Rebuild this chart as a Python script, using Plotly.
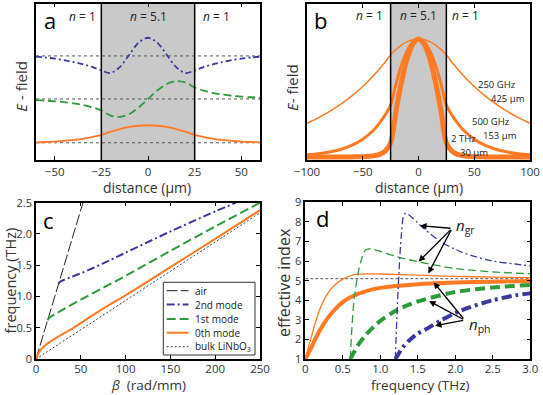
import plotly.graph_objects as go

W, H = 543, 395
FONT = "Open Sans"
BLUE = "#3a3a9e"
GREEN = "#2f9a3a"
ORANGE = "#ff7a22"
GRAY_FILL = "#c9c9c9"
TXT = "#333333"

# ---------------- panel a : mode profiles (arbitrary, offset) ----------------
xa = [-60, -55, -50, -45, -40, -35, -30, -25, -20, -15, -10, -5, 0,
      5, 10, 15, 20, 25, 30, 35, 40, 45, 50, 55, 60]
a_mode2 = [0.660, 0.655, 0.648, 0.638, 0.626, 0.612, 0.595, 0.572, 0.556, 0.595, 0.673, 0.750, 0.781,
           0.750, 0.673, 0.595, 0.556, 0.572, 0.595, 0.612, 0.626, 0.638, 0.648, 0.655, 0.660]
a_mode1 = [0.382, 0.379, 0.375, 0.370, 0.362, 0.352, 0.337, 0.317, 0.284, 0.276, 0.294, 0.336, 0.390,
           0.444, 0.486, 0.504, 0.496, 0.463, 0.443, 0.428, 0.418, 0.410, 0.405, 0.401, 0.398]
a_mode0 = [0.113, 0.115, 0.118, 0.122, 0.128, 0.135, 0.146, 0.160, 0.181, 0.198, 0.211, 0.219, 0.222,
           0.219, 0.211, 0.198, 0.181, 0.160, 0.146, 0.135, 0.128, 0.122, 0.118, 0.115, 0.113]
a_baselines = [0.665, 0.39, 0.11]
a_xrange = [-60, 60]
core_edges = [-25, 25]

# ---------------- panel b : fundamental mode at three frequencies ----------------
xb = [-100, -90, -80, -70, -60, -50, -40, -35, -30, -25, -20, -15, -10, -5, 0,
      5, 10, 15, 20, 25, 30, 35, 40, 50, 60, 70, 80, 90, 100]
b_250GHz = [0.286, 0.331, 0.384, 0.445, 0.516, 0.598, 0.693, 0.746, 0.803, 0.865, 0.913, 0.951, 0.978, 0.994, 1.0,
            0.994, 0.978, 0.951, 0.913, 0.865, 0.803, 0.746, 0.693, 0.598, 0.516, 0.445, 0.384, 0.331, 0.286]
b_500GHz = [0.018, 0.027, 0.042, 0.064, 0.098, 0.151, 0.231, 0.287, 0.355, 0.440, 0.628, 0.785, 0.902, 0.975, 1.0,
            0.975, 0.902, 0.785, 0.628, 0.440, 0.355, 0.287, 0.231, 0.151, 0.098, 0.064, 0.042, 0.027, 0.018]
b_2THz = [0.0, 0.0, 0.0, 0.0, 0.001, 0.002, 0.010, 0.022, 0.050, 0.120, 0.400, 0.645, 0.836, 0.958, 1.0,
          0.958, 0.836, 0.645, 0.400, 0.120, 0.050, 0.022, 0.010, 0.002, 0.001, 0.0, 0.0, 0.0, 0.0]

# ---------------- panel c : dispersion ----------------
beta_air = [0, 52.4]
f_air = [0, 2.5]
beta_bulk = [0, 250]
f_bulk = [0, 2.34]
beta0 = [0, 3, 8, 15, 25, 42, 60, 80, 100, 150, 200, 250]
f0 = [0, 0.10, 0.19, 0.27, 0.36, 0.50, 0.67, 0.85, 1.02, 1.47, 1.92, 2.38]
beta1 = [13, 14, 16, 20, 30, 50, 75, 100, 150, 200, 250]
f1 = [0.62, 0.645, 0.672, 0.705, 0.79, 0.95, 1.14, 1.33, 1.73, 2.12, 2.5]
beta2 = [25.2, 26, 28, 32, 40, 50, 75, 100, 150, 200, 223]
f2 = [1.2, 1.22, 1.245, 1.27, 1.315, 1.37, 1.53, 1.70, 2.04, 2.36, 2.5]

# ---------------- panel d : effective indices ----------------
fg0 = [0, 0.05, 0.1, 0.15, 0.2, 0.3, 0.4, 0.5, 0.6, 0.7, 0.8, 1.0, 1.5, 2.0, 2.5, 3.0]
ngr0 = [1, 1.7, 2.4, 3.05, 3.6, 4.35, 4.8, 5.08, 5.25, 5.33, 5.35, 5.34, 5.28, 5.22, 5.18, 5.15]
fp0 = [0, 0.05, 0.1, 0.15, 0.2, 0.3, 0.4, 0.5, 0.6, 0.8, 1.0, 1.5, 2.0, 2.5, 3.0]
nph0 = [1, 1.35, 1.75, 2.15, 2.5, 3.1, 3.55, 3.9, 4.15, 4.45, 4.63, 4.82, 4.9, 4.95, 4.98]
fg1 = [0.6, 0.62, 0.65, 0.7, 0.75, 0.8, 0.85, 0.9, 1.0, 1.2, 1.5, 2.0, 2.5, 3.0]
ngr1 = [1, 2.5, 4.0, 5.3, 6.1, 6.55, 6.62, 6.6, 6.5, 6.25, 5.97, 5.62, 5.45, 5.35]
fp1 = [0.6, 0.65, 0.7, 0.8, 0.9, 1.0, 1.2, 1.4, 1.6, 2.0, 2.5, 3.0]
nph1 = [1, 1.35, 1.7, 2.2, 2.6, 2.95, 3.45, 3.8, 4.05, 4.42, 4.65, 4.78]
fg2 = [1.2, 1.22, 1.25, 1.28, 1.31, 1.34, 1.4, 1.5, 1.6, 1.8, 2.0, 2.2, 2.5, 2.8, 3.0]
ngr2 = [1, 3.0, 5.5, 7.3, 8.3, 8.45, 8.3, 7.95, 7.6, 7.0, 6.6, 6.3, 6.0, 5.85, 5.75]
fp2 = [1.2, 1.25, 1.3, 1.4, 1.5, 1.6, 1.8, 2.0, 2.2, 2.5, 2.8, 3.0]
nph2 = [1, 1.3, 1.6, 2.0, 2.3, 2.5, 2.95, 3.35, 3.65, 4.0, 4.25, 4.35]
n_bulk = 5.1
ngr_tail = (1.956, 7.67)
ngr_tips = [(1.53, 7.8), (1.51, 5.97), (1.64, 5.37)]
nph_tail = (2.125, 2.99)
nph_tips = [(1.71, 4.92), (1.65, 3.96), (1.73, 2.70)]

fig = go.Figure()


def line(x, y, color, width, dash="solid", ax=1, shape="spline"):
    fig.add_trace(go.Scatter(
        x=x, y=y, mode="lines", showlegend=False, hoverinfo="skip",
        line=dict(color=color, width=width, dash=dash, shape=shape, smoothing=0.9),
        xaxis="x" if ax == 1 else f"x{ax}", yaxis="y" if ax == 1 else f"y{ax}"))


# panel a
for b in a_baselines:
    line(a_xrange, [b, b], "#555555", 1, "3px,3px", 1, "linear")
line(xa, a_mode2, BLUE, 1.8, "6px,3px,2px,3px", 1)
line(xa, a_mode1, GREEN, 1.8, "8px,4px", 1)
line(xa, a_mode0, ORANGE, 1.8, "solid", 1)

# panel b
line(xb, b_250GHz, ORANGE, 1.5, "solid", 2)
line(xb, b_500GHz, ORANGE, 3, "solid", 2)
line(xb, b_2THz, ORANGE, 5, "solid", 2)

# panel c
line(beta_bulk, f_bulk, "#444444", 1, "2px,2px", 3, "linear")
line(beta_air, f_air, "#222222", 1, "11px,3px", 3, "linear")
line(beta0, f0, ORANGE, 2, "solid", 3)
line(beta1, f1, GREEN, 2, "9px,4px", 3)
line(beta2, f2, BLUE, 2, "8px,3px,2px,3px", 3)

# panel d
line([0, 3], [n_bulk, n_bulk], "#555555", 1, "3px,2px", 4, "linear")
line(fg0, ngr0, ORANGE, 1.3, "solid", 4)
line(fp0, nph0, ORANGE, 4, "solid", 4)
line(fg1, ngr1, GREEN, 1.3, "8px,4px", 4)
line(fp1, nph1, GREEN, 4, "10px,5px", 4)
line(fg2, ngr2, BLUE, 1.3, "7px,3px,2px,3px", 4)
line(fp2, nph2, BLUE, 4, "10px,4px,3px,4px", 4)


def dom(a, b, n):
    return [a / n, b / n]


def ydom(top, bottom):
    return [1 - bottom / H, 1 - top / H]


axis_common = dict(showline=True, linecolor="black", linewidth=1.5, mirror="allticks",
                   ticks="inside", ticklen=4, tickcolor="black", tickwidth=1,
                   showgrid=False, zeroline=False, automargin=False,
                   tickfont=dict(family=FONT, size=11.5, color=TXT))
noticks = {**axis_common, "ticks": "", "showticklabels": False, "mirror": True}
low_x = {**axis_common, "tickfont": dict(family=FONT, size=11.5, color=TXT), "ticklabelstandoff": -2}
low_y = {**axis_common, "tickfont": dict(family=FONT, size=11, color=TXT)}

layout = dict(
    width=W, height=H, margin=dict(l=0, r=0, t=0, b=0),
    paper_bgcolor="white", plot_bgcolor="white", template="none",
    font=dict(family=FONT, color=TXT),
    xaxis=dict(domain=dom(36, 260, W), range=a_xrange, tickvals=[-50, -25, 0, 25, 50],
               anchor="y", **axis_common),
    yaxis=dict(domain=ydom(3.5, 160), range=[0, 1], anchor="x", **noticks),
    xaxis2=dict(domain=dom(307, 530, W), range=[-100, 100], tickvals=[-100, -50, 0, 50, 100],
                anchor="y2", **axis_common),
    yaxis2=dict(domain=ydom(4, 160), range=[-0.0254, 1.2966], anchor="x2", **noticks),
    xaxis3=dict(domain=dom(36, 260, W), range=[0, 250], tickvals=[0, 50, 100, 150, 200, 250],
                anchor="y3", **low_x),
    yaxis3=dict(domain=ydom(202.7, 359), range=[0, 2.5], tickvals=[0, 0.5, 1, 1.5, 2, 2.5],
                ticktext=["0", "0.5", "1.0", "1.5", "2.0", "2.5"], anchor="x3", **low_y),
    xaxis4=dict(domain=dom(305.3, 530.3, W), range=[0, 3], tickvals=[0, 0.5, 1, 1.5, 2, 2.5, 3],
                ticktext=["0", "0.5", "1.0", "1.5", "2.0", "2.5", "3.0"], anchor="y4", **low_x),
    yaxis4=dict(domain=ydom(202.3, 359), range=[1, 9], tickvals=list(range(1, 10)), anchor="x4",
                **low_y),
)
fig.update_layout(**layout)

shapes = []
for xr, yr in (("x", "y"), ("x2", "y2")):
    shapes.append(dict(type="rect", xref=xr, yref=f"{yr} domain", x0=core_edges[0], x1=core_edges[1],
                       y0=0, y1=1, fillcolor=GRAY_FILL, line=dict(width=0), layer="below"))
    for e in core_edges:
        shapes.append(dict(type="line", xref=xr, yref=f"{yr} domain", x0=e, x1=e, y0=0, y1=1,
                           line=dict(color="black", width=1.5)))

# custom legend for panel c
lg = dict(x0=163.3, x1=255, y0=282.3, y1=355)
shapes.append(dict(type="rect", xref="paper", yref="paper", x0=lg["x0"] / W, x1=lg["x1"] / W,
                   y0=1 - lg["y1"] / H, y1=1 - lg["y0"] / H, fillcolor="white",
                   line=dict(color="#333333", width=1)))
legend_items = [("air", "#222222", 1, "11px,3px"),
                ("2nd mode", BLUE, 2, "8px,3px,2px,3px"),
                ("1st mode", GREEN, 2, "9px,4px"),
                ("0th mode", ORANGE, 2, "solid"),
                ("bulk LiNbO<sub>3</sub>", "#444444", 1, "2px,2px")]
legend_y = [290.7, 304.5, 319, 332.7, 346.7]
annotations = []
for (t, col, w, d), yy in zip(legend_items, legend_y):
    shapes.append(dict(type="line", xref="paper", yref="paper", x0=166.7 / W, x1=188.5 / W,
                       y0=1 - yy / H, y1=1 - yy / H, line=dict(color=col, width=w, dash=d)))
    annotations.append(dict(xref="paper", yref="paper", x=192.5 / W, y=1 - yy / H, text=t,
                            showarrow=False, xanchor="left", yanchor="middle",
                            font=dict(family=FONT, size=10, color="#222222")))
fig.update_layout(shapes=shapes)


def txt(x, y, s, xr, yr, size=12, xanchor="center", color="#222222", angle=0):
    annotations.append(dict(x=x, y=y, xref=xr, yref=yr, text=s, showarrow=False,
                            xanchor=xanchor, yanchor="middle", textangle=angle,
                            font=dict(family=FONT, size=size, color=color)))


def ptxt(px, py, s, size, angle=0):
    txt(px / W, 1 - py / H, s, "paper", "paper", size, "center", TXT, angle)


# axis titles (placed in pixel positions of the reference)
ptxt(147.3, 187, "distance (μm)", 14)
ptxt(418.5, 187, "distance (μm)", 14)
ptxt(148, 385, "<i>β</i>  (rad/mm)", 13.5)
ptxt(420.3, 385, "frequency (THz)", 13.5)
ptxt(21, 86.7, "<i>E</i> - field", 15, -90)
ptxt(292.5, 87.5, "<i>E</i>- field", 15, -90)
ptxt(10.4, 280, "frequency (THz)", 14.5, -90)
ptxt(284, 283, "effective index", 16, -90)

# panel labels
txt(-52.6, 0.895, "a", "x", "y", 22, color="black")
txt(-88.3, 1.16, "b", "x2", "y2", 22, color="black")
txt(13.7, 2.22, "c", "x3", "y3", 22, color="black")
txt(0.223, 8.18, "d", "x4", "y4", 22, color="black")

# refractive index labels
txt(-35, 0.92, "<i>n</i> = 1", "x", "y", 12)
txt(0, 0.92, "<i>n</i> = 5.1", "x", "y", 12)
txt(36.8, 0.92, "<i>n</i> = 1", "x", "y", 12)
txt(-44, 1.195, "<i>n</i> = 1", "x2", "y2", 12)
txt(0, 1.195, "<i>n</i> = 5.1", "x2", "y2", 12)
txt(42, 1.195, "<i>n</i> = 1", "x2", "y2", 12)

# curve labels panel b
txt(89.5, 0.616, "250 GHz", "x2", "y2", 9.5, "right")
txt(97, 0.498, "425 μm", "x2", "y2", 9.5, "right")
txt(83.6, 0.297, "500 GHz", "x2", "y2", 9.5, "right")
txt(90, 0.18, "153 μm", "x2", "y2", 9.5, "right")
txt(53.6, 0.157, "2 THz", "x2", "y2", 9.5, "right")
txt(64.1, 0.04, "30 μm", "x2", "y2", 9.5, "right")

# arrows panel d
for tail, tips in ((ngr_tail, ngr_tips), (nph_tail, nph_tips)):
    for tip in tips:
        annotations.append(dict(x=tip[0], y=tip[1], ax=tail[0], ay=tail[1], xref="x4", yref="y4",
                                axref="x4", ayref="y4", text="", showarrow=True, arrowhead=2,
                                arrowsize=1, arrowwidth=1.3, arrowcolor="black"))
txt(1.98, 7.8, "<i>n</i><sub>gr</sub>", "x4", "y4", 15, "left")
txt(2.15, 2.75, "<i>n</i><sub>ph</sub>", "x4", "y4", 15, "left")

fig.update_layout(annotations=annotations)
fig.write_html("out.html")
